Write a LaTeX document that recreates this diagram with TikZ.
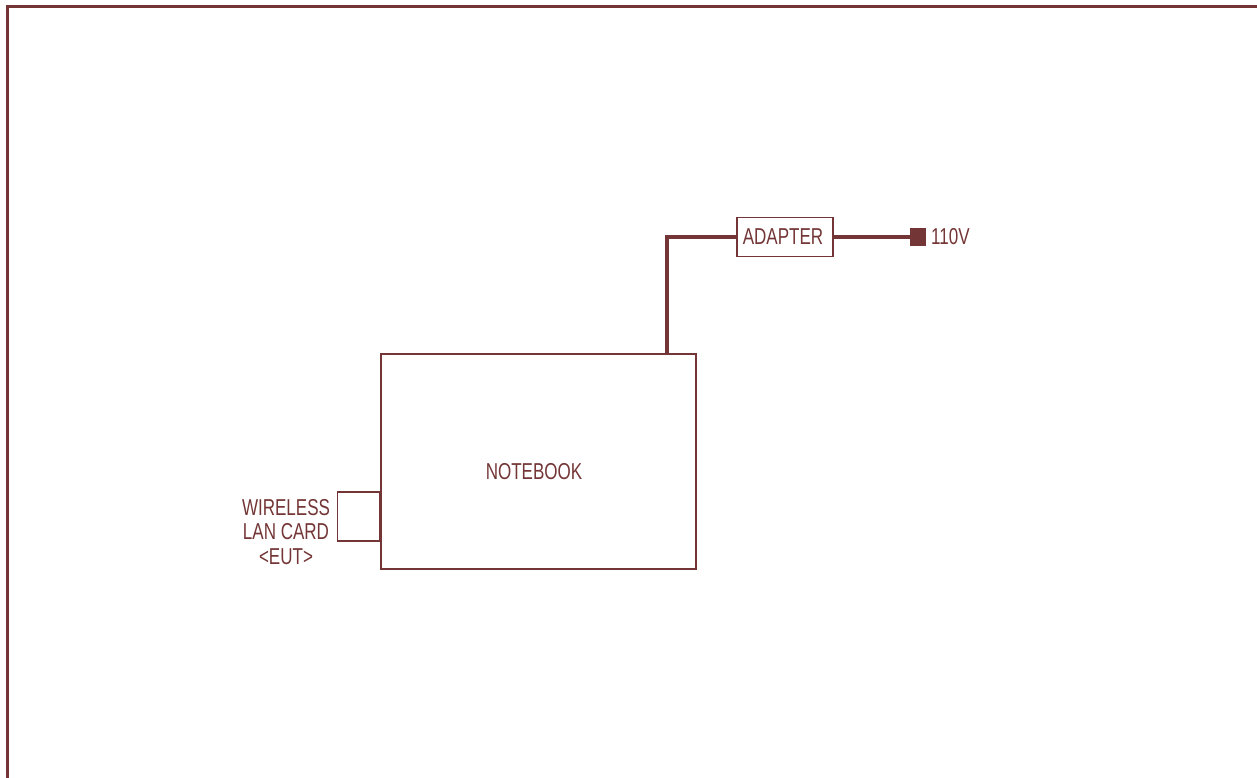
\documentclass[tikz,border=0pt]{standalone}
\usepackage{fontspec}
\newfontfamily\cadfont[FakeStretch=0.74]{Liberation Sans}
\definecolor{ink}{RGB}{115,53,53}
\tikzset{
  thin box/.style={draw=ink, line width=1.4pt},
  thick wire/.style={draw=ink, line width=4.5pt},
  lbl/.style={text=ink, font=\cadfont\fontsize{23}{25}\selectfont, inner sep=0pt},
}
\begin{document}
\begin{tikzpicture}[x=1pt,y=-1pt]
\useasboundingbox (0,0) rectangle (1257,778);
% frame
\draw[ink, line width=3pt] (7.5,778) -- (7.5,6.5) -- (1257,6.5);
% notebook
\node[thin box, minimum width=315pt, minimum height=215pt, inner sep=0pt] (nb) at (538.5,461.5) {};
\node[lbl] (nbt) at (534,472) {NOTEBOOK};
% card
\node[thin box, minimum width=42pt, minimum height=49pt, inner sep=0pt, anchor=east] (card) at (nb.west |- 0,516.5) {};
\node[lbl, align=center, font=\cadfont\fontsize{23}{24.5}\selectfont] (cardt) at (286,532) {WIRELESS\\LAN CARD\\{<}EUT{>}};
% adapter
\node[thin box, minimum width=96pt, minimum height=39pt, inner sep=0pt] (ad) at (785,237) {};
\node[lbl] (adt) at (783,237) {ADAPTER};
% plug
\node[fill=ink, minimum width=16pt, minimum height=18pt, inner sep=0pt] (plug) at (918,237) {};
\node[lbl, anchor=west] (v) at (931,237) {110V};
% wires
\coordinate (corner) at (667,237);
\draw[thick wire] (nb.north -| corner) -- (corner) -- (ad.west);
\draw[thick wire] (ad.east) -- (plug.west);
\end{tikzpicture}
\end{document}
